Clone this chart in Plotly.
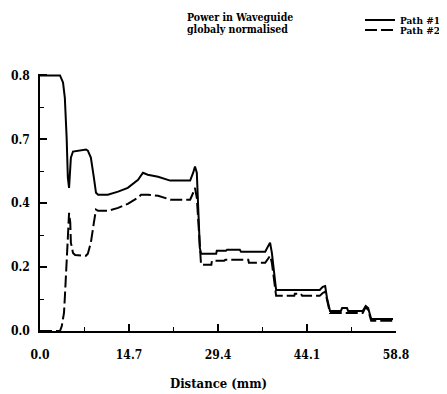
import plotly.graph_objects as go

# ---- data ----
path1_x = [0.0, 3.3, 3.8, 4.1, 4.4, 4.6, 4.8, 5.0, 5.1, 5.45, 6.3, 7.6, 7.9, 8.4, 8.9, 9.25, 9.6,
           11.2, 12.9, 14.5, 16.2, 17.0, 17.8, 19.5, 21.5, 24.8, 25.3, 25.6, 25.9, 26.1, 26.4, 26.6,
           29.1, 29.2, 30.7, 30.9, 33.0, 33.2, 37.2, 37.7, 38.0, 38.3, 38.7, 39.0,
           46.2, 46.7, 47.1, 47.4, 47.9, 49.7, 49.9, 50.7, 50.9, 53.3, 53.8, 54.2, 54.7, 58.3]
path1_y = [0.88, 0.88, 0.856, 0.804, 0.666, 0.528, 0.493, 0.545, 0.597, 0.618, 0.621, 0.625, 0.621, 0.597, 0.528, 0.476, 0.469,
           0.469, 0.480, 0.493, 0.521, 0.545, 0.538, 0.531, 0.518, 0.518, 0.545, 0.566, 0.545, 0.424, 0.286, 0.266,
           0.266, 0.276, 0.276, 0.280, 0.280, 0.273, 0.273, 0.293, 0.304, 0.269, 0.183, 0.141,
           0.141, 0.152, 0.155, 0.114, 0.069, 0.069, 0.079, 0.079, 0.069, 0.069, 0.086, 0.079, 0.041, 0.041]

path2_x = [0.0, 3.3, 3.6, 3.96, 4.1, 4.3, 4.5, 4.6, 4.8, 5.0, 5.1, 5.45, 5.8, 7.6, 7.9, 8.4, 8.9, 9.25, 9.6,
           11.2, 12.9, 14.5, 16.2, 16.7, 17.8, 19.5, 21.6, 24.8, 25.3, 25.6, 25.9, 26.3, 26.6,
           28.3, 28.4, 30.4, 30.6, 34.4, 34.5, 37.2, 37.7, 38.0, 38.3, 38.7, 39.0,
           42.0, 42.1, 43.1, 43.3, 46.2, 46.7, 47.1, 47.4, 47.9, 53.3, 53.8, 54.2, 54.7, 58.3]
path2_y = [0.0, 0.0, 0.017, 0.062, 0.114, 0.183, 0.252, 0.321, 0.407, 0.373, 0.304, 0.269, 0.262, 0.259, 0.266, 0.304, 0.373, 0.418, 0.414,
           0.414, 0.424, 0.438, 0.459, 0.469, 0.469, 0.466, 0.452, 0.452, 0.476, 0.493, 0.459, 0.321, 0.228,
           0.228, 0.242, 0.242, 0.245, 0.245, 0.235, 0.235, 0.248, 0.259, 0.235, 0.166, 0.121,
           0.121, 0.128, 0.128, 0.121, 0.121, 0.131, 0.135, 0.104, 0.062, 0.062, 0.083, 0.072, 0.035, 0.035]

x_ticks = [0.0, 14.7, 29.4, 44.1, 58.8]
x_tick_labels = ["0.0", "14.7", "29.4", "44.1", "58.8"]
y_ticks = [0.0, 0.22, 0.44, 0.66, 0.88]
y_tick_labels = ["0.0", "0.2", "0.4", "0.7", "0.8"]

FONT = "DejaVu Serif Condensed, Liberation Serif, serif"

W, H = 447, 394
L, R, T, B = 32, 59, 66, 71          # plot area: x 32..388, y 66..323
PH = H - T - B


def py(p):
    """pixel row -> paper y"""
    return (H - B - p) / PH


def px(p):
    """pixel column -> paper x"""
    return (p - L) / (W - L - R)


fig = go.Figure()
fig.add_trace(go.Scatter(x=path1_x, y=path1_y, mode="lines", name="Path #1",
                         line=dict(color="black", width=2), legend="legend"))
fig.add_trace(go.Scatter(x=path2_x, y=path2_y, mode="lines", name="Path #2",
                         line=dict(color="black", width=2, dash="12px,4px"), legend="legend2"))

leg_common = dict(xanchor="left", yanchor="middle", font=dict(size=10),
                  bgcolor="rgba(0,0,0,0)", borderwidth=0, itemwidth=30)

fig.update_layout(
    template="none",
    width=W, height=H,
    margin=dict(l=L, r=R, t=T, b=B, autoexpand=False),
    paper_bgcolor="white", plot_bgcolor="white",
    font=dict(family=FONT, size=12, color="black", weight="bold"),
    showlegend=True,
    legend=dict(x=px(352), y=py(12), **leg_common),
    legend2=dict(x=px(352), y=py(22), **leg_common),
    xaxis=dict(range=[0, 58.8], tickvals=x_ticks, ticktext=x_tick_labels,
               showline=True, linecolor="black", linewidth=2, mirror=False,
               ticks="inside", ticklen=7, tickwidth=1.5, tickcolor="black",
               minor=dict(dtick=7.35, tick0=0, ticks="inside", ticklen=4, tickcolor="black", tickwidth=1),
               showgrid=False, zeroline=False, automargin=False,
               ticklabelstandoff=12),
    yaxis=dict(range=[0, 0.885], tickvals=y_ticks, ticktext=y_tick_labels,
               showline=True, linecolor="black", linewidth=1.5,
               ticks="inside", ticklen=7, tickwidth=1.5, tickcolor="black",
               minor=dict(dtick=0.11, tick0=0, ticks="inside", ticklen=4, tickcolor="black", tickwidth=1),
               showgrid=False, zeroline=False, automargin=False,
               ticklabelstandoff=6),
    annotations=[
        dict(text="Power in Waveguide", xref="paper", yref="paper", x=px(177), y=py(9),
             xanchor="left", yanchor="middle", showarrow=False, font=dict(size=10.5)),
        dict(text="globaly normalised", xref="paper", yref="paper", x=px(177), y=py(21),
             xanchor="left", yanchor="middle", showarrow=False, font=dict(size=10.5)),
        dict(text="Distance (mm)", xref="paper", yref="paper", x=px(210), y=py(375),
             xanchor="center", yanchor="middle", showarrow=False, font=dict(size=13)),
    ],
)

fig.write_html("out.html")
